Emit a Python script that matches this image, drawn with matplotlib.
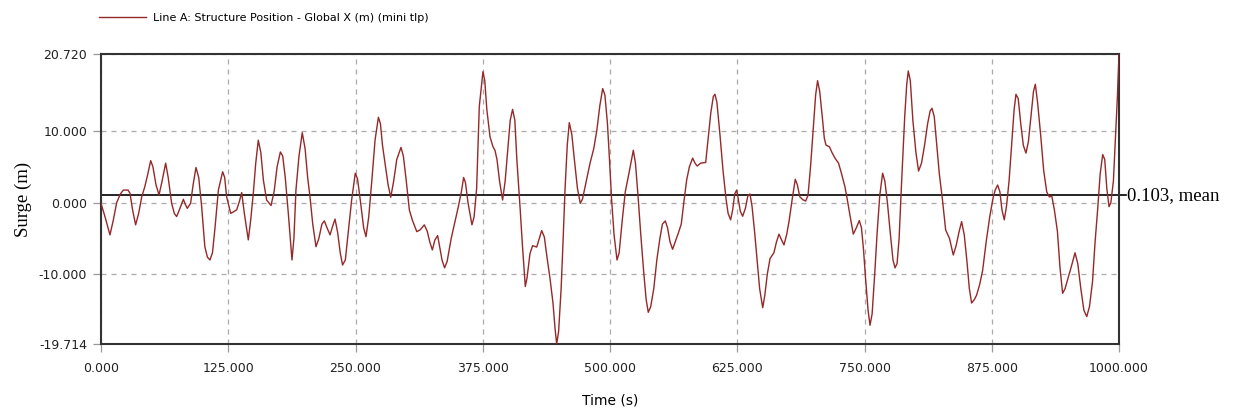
import matplotlib
matplotlib.use("Agg")
import matplotlib.pyplot as plt
import numpy as np

# ---------------- data ----------------
time_s = [0, 4, 8.8, 12, 15.4, 19, 22, 26.5, 28.5, 31, 34, 37, 40, 43, 46, 48.8, 51, 54, 57, 60,
          63.5, 66, 69.4, 72, 74.3, 77, 80.9, 83, 84.8, 88, 90.5, 93.3, 96, 98.9, 102, 104.5, 107,
          109.5, 112, 115.3, 119.5, 121.5, 123.4, 127.4, 130, 133.3, 136, 138.2, 140.8, 144.7, 147,
          149.6, 152, 154.5, 157, 159.5, 162.7, 167, 170, 173, 176.2, 178.5, 181, 184, 187.6, 189.5,
          191.5, 194.5, 197.7, 200.5, 203, 205.3, 208, 211.2, 214, 217, 219.4, 222, 225, 227.5,
          229.9, 232.5, 235, 237.3, 240, 243, 246.2, 249.8, 252, 255, 258, 260.3, 263, 266, 269.2,
          272.5, 274.5, 276.5, 279, 282, 284.6, 287.5, 290.5, 294.7, 297, 299.5, 302.9, 306, 310.2,
          313.5, 317.6, 320.5, 323, 325.5, 328, 330.7, 332.5, 335, 337.5, 340, 344, 348, 351, 354,
          356.2, 358, 360.5, 364.4, 366.5, 369, 371.6, 375.2, 377, 379, 382.1, 385, 387, 389, 391.5,
          394.5, 397, 400, 402, 404.3, 406.5, 408.5, 411.6, 414, 416.8, 418.5, 421.4, 424, 428,
          430.5, 432.9, 435.5, 438, 441, 444, 446, 447.6, 449.5, 452, 454, 455.8, 458, 460, 462.5,
          465, 468, 470.8, 473, 476, 480.4, 484, 487, 490, 492.8, 495, 497.5, 499.5, 501.6, 504,
          506.9, 509, 512, 515, 518.5, 522.9, 525, 527.5, 530, 533, 535.5, 537.6, 540, 543, 546,
          549, 551.5, 554.3, 556.5, 559, 561.5, 564, 567, 570, 572.5, 575.3, 578, 581.2, 583.5,
          585.7, 589, 594, 596.5, 599, 601.5, 603.1, 605, 608, 611, 614, 616, 618.5, 620.5, 622.5,
          624.4, 626, 628, 630.3, 633, 635.5, 637.5, 639.5, 642, 644.5, 647, 650, 652, 654.5, 657.2,
          661, 663.5, 666, 668.5, 670.9, 673.5, 676, 679, 682, 684, 686.5, 689.5, 692.2, 694.5, 697,
          699.5, 702, 703.9, 706, 708.5, 710.5, 712.2, 715.5, 718, 721, 724.5, 727.5, 730.8, 733,
          736, 739, 742, 744.9, 747, 749, 751, 753.5, 755.4, 757.5, 760, 762.5, 765, 767.8, 770,
          772.5, 775.5, 778, 780, 782, 784, 786.5, 789.5, 791.5, 793, 795, 797.5, 800.5, 803.1, 806,
          809, 812, 814.5, 816.3, 818.5, 821, 823.5, 826.5, 829.7, 833.5, 837.2, 840, 843, 845.4,
          848, 850.5, 853, 855.2, 858, 860.1, 863, 866, 869.5, 873, 876.5, 878.5, 880.8, 883, 885,
          887.3, 889.5, 892, 894.5, 897, 898.8, 901, 903.5, 906, 908.6, 911, 913.5, 916, 917.8, 920,
          923, 926, 929, 931.5, 934, 936.5, 939.5, 942, 944.6, 947, 950, 953, 956.8, 959.5, 962.5,
          965.5, 968.3, 971, 974, 976.5, 979, 981.5, 984, 986, 988, 990.2, 992, 994.5, 996.5, 998.5,
          1000]
surge_m = [-0.1, -2.0, -4.5, -2.5, 0, 1.2, 1.75, 1.75, 1.3, -1.0, -3.1, -1.5, 0.8, 2.2, 4.0, 5.85,
           5.0, 2.5, 1.06, 3.0, 5.5, 3.5, -0.1, -1.5, -1.95, -1.0, 0.46, -0.3, -0.8, -0.1, 2.5, 4.9,
           3.5, -0.6, -6.15, -7.6, -8.0, -7.0, -3.5, 1.75, 4.3, 3.5, 0.8, -1.5, -1.3, -1.0, 0.2, 1.4,
           -1.5, -5.2, -2.5, 1.3, 5.5, 8.7, 7.0, 3.15, 0.36, -0.4, 1.5, 5.0, 7.06, 6.5, 3.5, -1.5,
           -8.0, -5.0, 1.75, 6.5, 9.75, 7.5, 3.5, 0.8, -3.0, -6.15, -5.0, -3.0, -2.55, -3.5, -4.5,
           -3.3, -2.3, -4.2, -7.0, -8.7, -8.0, -4.0, 0.36, 4.1, 3.3, 0.0, -3.5, -4.75, -2.0, 3.0,
           8.7, 11.9, 11.0, 8.0, 5.5, 2.5, 0.74, 3.0, 6.0, 7.7, 6.5, 3.5, -1.03, -2.5, -4.05, -3.8,
           -3.1, -4.0, -5.5, -6.6, -5.2, -4.6, -6.0, -8.0, -9.1, -8.2, -5.0, -2.5, -0.57, 1.5, 3.5,
           2.8, 0.0, -3.1, -2.0, 2.0, 13.4, 18.25, 17.0, 13.0, 9.2, 7.8, 7.3, 6.0, 3.0, 0.36, 3.0,
           8.0, 11.5, 13.0, 11.5, 6.0, -0.57, -6.0, -11.7, -10.5, -7.1, -6.0, -6.2, -5.0, -3.9, -4.8,
           -7.5, -10.5, -14.0, -17.5, -19.714, -18.0, -12.0, -5.0, 1.75, 8.0, 11.15, 9.5, 6.0, 2.0,
           -0.1, 0.5, 2.5, 5.5, 7.5, 10.0, 13.5, 15.9, 15.0, 11.0, 6.0, 0.36, -4.5, -8.0, -7.0, -2.5,
           1.5, 4.0, 7.3, 5.5, 1.0, -4.0, -9.5, -13.5, -15.3, -14.5, -12.0, -8.0, -5.0, -3.0, -2.55,
           -3.5, -5.5, -6.5, -5.5, -4.3, -3.0, 0.0, 3.15, 5.0, 6.2, 5.5, 5.1, 5.5, 5.6, 9.0, 12.5,
           14.8, 15.1, 14.0, 9.5, 4.5, 0.5, -1.5, -2.4, -1.0, 1.2, 1.75, 0.5, -1.2, -1.9, -0.8, 1.0,
           1.2, -0.5, -4.0, -8.0, -12.0, -14.65, -13.0, -10.0, -7.8, -7.0, -5.5, -4.4, -5.2, -5.9,
           -4.5, -2.5, 0.5, 3.25, 2.5, 0.8, 0.4, 0.22, 1.0, 5.0, 10.0, 15.0, 17.0, 15.5, 12.0, 9.0,
           8.0, 7.8, 7.0, 6.2, 5.5, 4.0, 2.2, 0.5, -2.0, -4.4, -3.5, -2.5, -3.5, -6.5, -10.5, -15.0,
           -17.1, -15.5, -10.0, -4.0, 1.0, 4.1, 3.0, 0.0, -4.5, -8.0, -9.1, -8.5, -5.0, 3.0, 12.0,
           16.5, 18.35, 17.0, 11.5, 7.0, 4.4, 5.5, 8.0, 11.0, 12.8, 13.15, 12.0, 8.0, 4.0, 0.5, -3.8,
           -5.0, -7.3, -6.0, -4.0, -2.65, -4.5, -8.0, -12.0, -14.0, -13.5, -12.9, -11.5, -9.5, -5.5,
           -2.0, 0.8, 1.8, 2.45, 1.5, -1.0, -2.4, -0.5, 3.0, 8.0, 13.0, 15.1, 14.5, 11.0, 8.0, 6.9,
           8.5, 12.0, 15.5, 16.5, 14.0, 9.5, 4.5, 1.5, 0.8, 0.9, -1.0, -4.0, -9.0, -12.65, -12.0,
           -10.5, -9.0, -7.0, -8.5, -12.0, -15.0, -15.9, -14.5, -11.0, -5.5, -1.0, 4.0, 6.7, 6.0,
           2.0, -0.57, 0.0, 3.0, 9.0, 15.0, 20.72]

x_ticks = [0, 125, 250, 375, 500, 625, 750, 875, 1000]
y_ticks = [-19.714, -10.0, 0.0, 10.0, 20.72]
mean_level = 1.0
mean_label = "0.103, mean"
series_label = "Line A: Structure Position - Global X (m) (mini tlp)"

# ---------------- figure ----------------
fig = plt.figure(figsize=(12.38, 4.16), dpi=100)
ax = fig.add_axes([101 / 1238, 72 / 416, 1018 / 1238, 290 / 416])

line_color = "#952828"
ax.plot(time_s, surge_m, color=line_color, lw=1.0, label=series_label, zorder=3)
ax.axhline(mean_level, color="black", lw=1.2, zorder=2)
ax.plot([1000, 1006.5], [mean_level, mean_level], color="black", lw=1.2, clip_on=False)
ax.text(1007.5, mean_level, mean_label, fontsize=13.5, family="Liberation Serif",
        va="center", ha="left")

ax.set_xlim(0, 1000)
ax.set_ylim(-19.714, 20.72)
ax.set_xticks(x_ticks)
ax.set_xticklabels([f"{v:.3f}" for v in x_ticks])
ax.set_yticks(y_ticks)
ax.set_yticklabels([f"{v:.3f}" for v in y_ticks])

ax.grid(True, color="#aaaaaa", ls=(0, (4, 4)), lw=0.9, zorder=1)
for s in ax.spines.values():
    s.set_color("#333333")
    s.set_linewidth(1.5)
ax.tick_params(axis="both", direction="out", length=6, width=0.9,
               labelsize=9, labelcolor="#222222", color="#999999")
ax.tick_params(axis="x", pad=7)
ax.tick_params(axis="y", pad=4)
for lab in ax.get_xticklabels() + ax.get_yticklabels():
    lab.set_family("DejaVu Sans")

ax.set_xlabel("Time (s)", fontsize=10, family="DejaVu Sans", labelpad=13)
ax.set_ylabel("Surge (m)", fontsize=13.5, family="Liberation Serif", labelpad=5)

leg = ax.legend(loc="lower left", bbox_to_anchor=(-6 / 1018, 1 + 27 / 290), frameon=False,
                handlelength=4.2, handletextpad=0.6, borderaxespad=0,
                prop={"family": "DejaVu Sans", "size": 8})

fig.savefig("out.png", dpi=100)
